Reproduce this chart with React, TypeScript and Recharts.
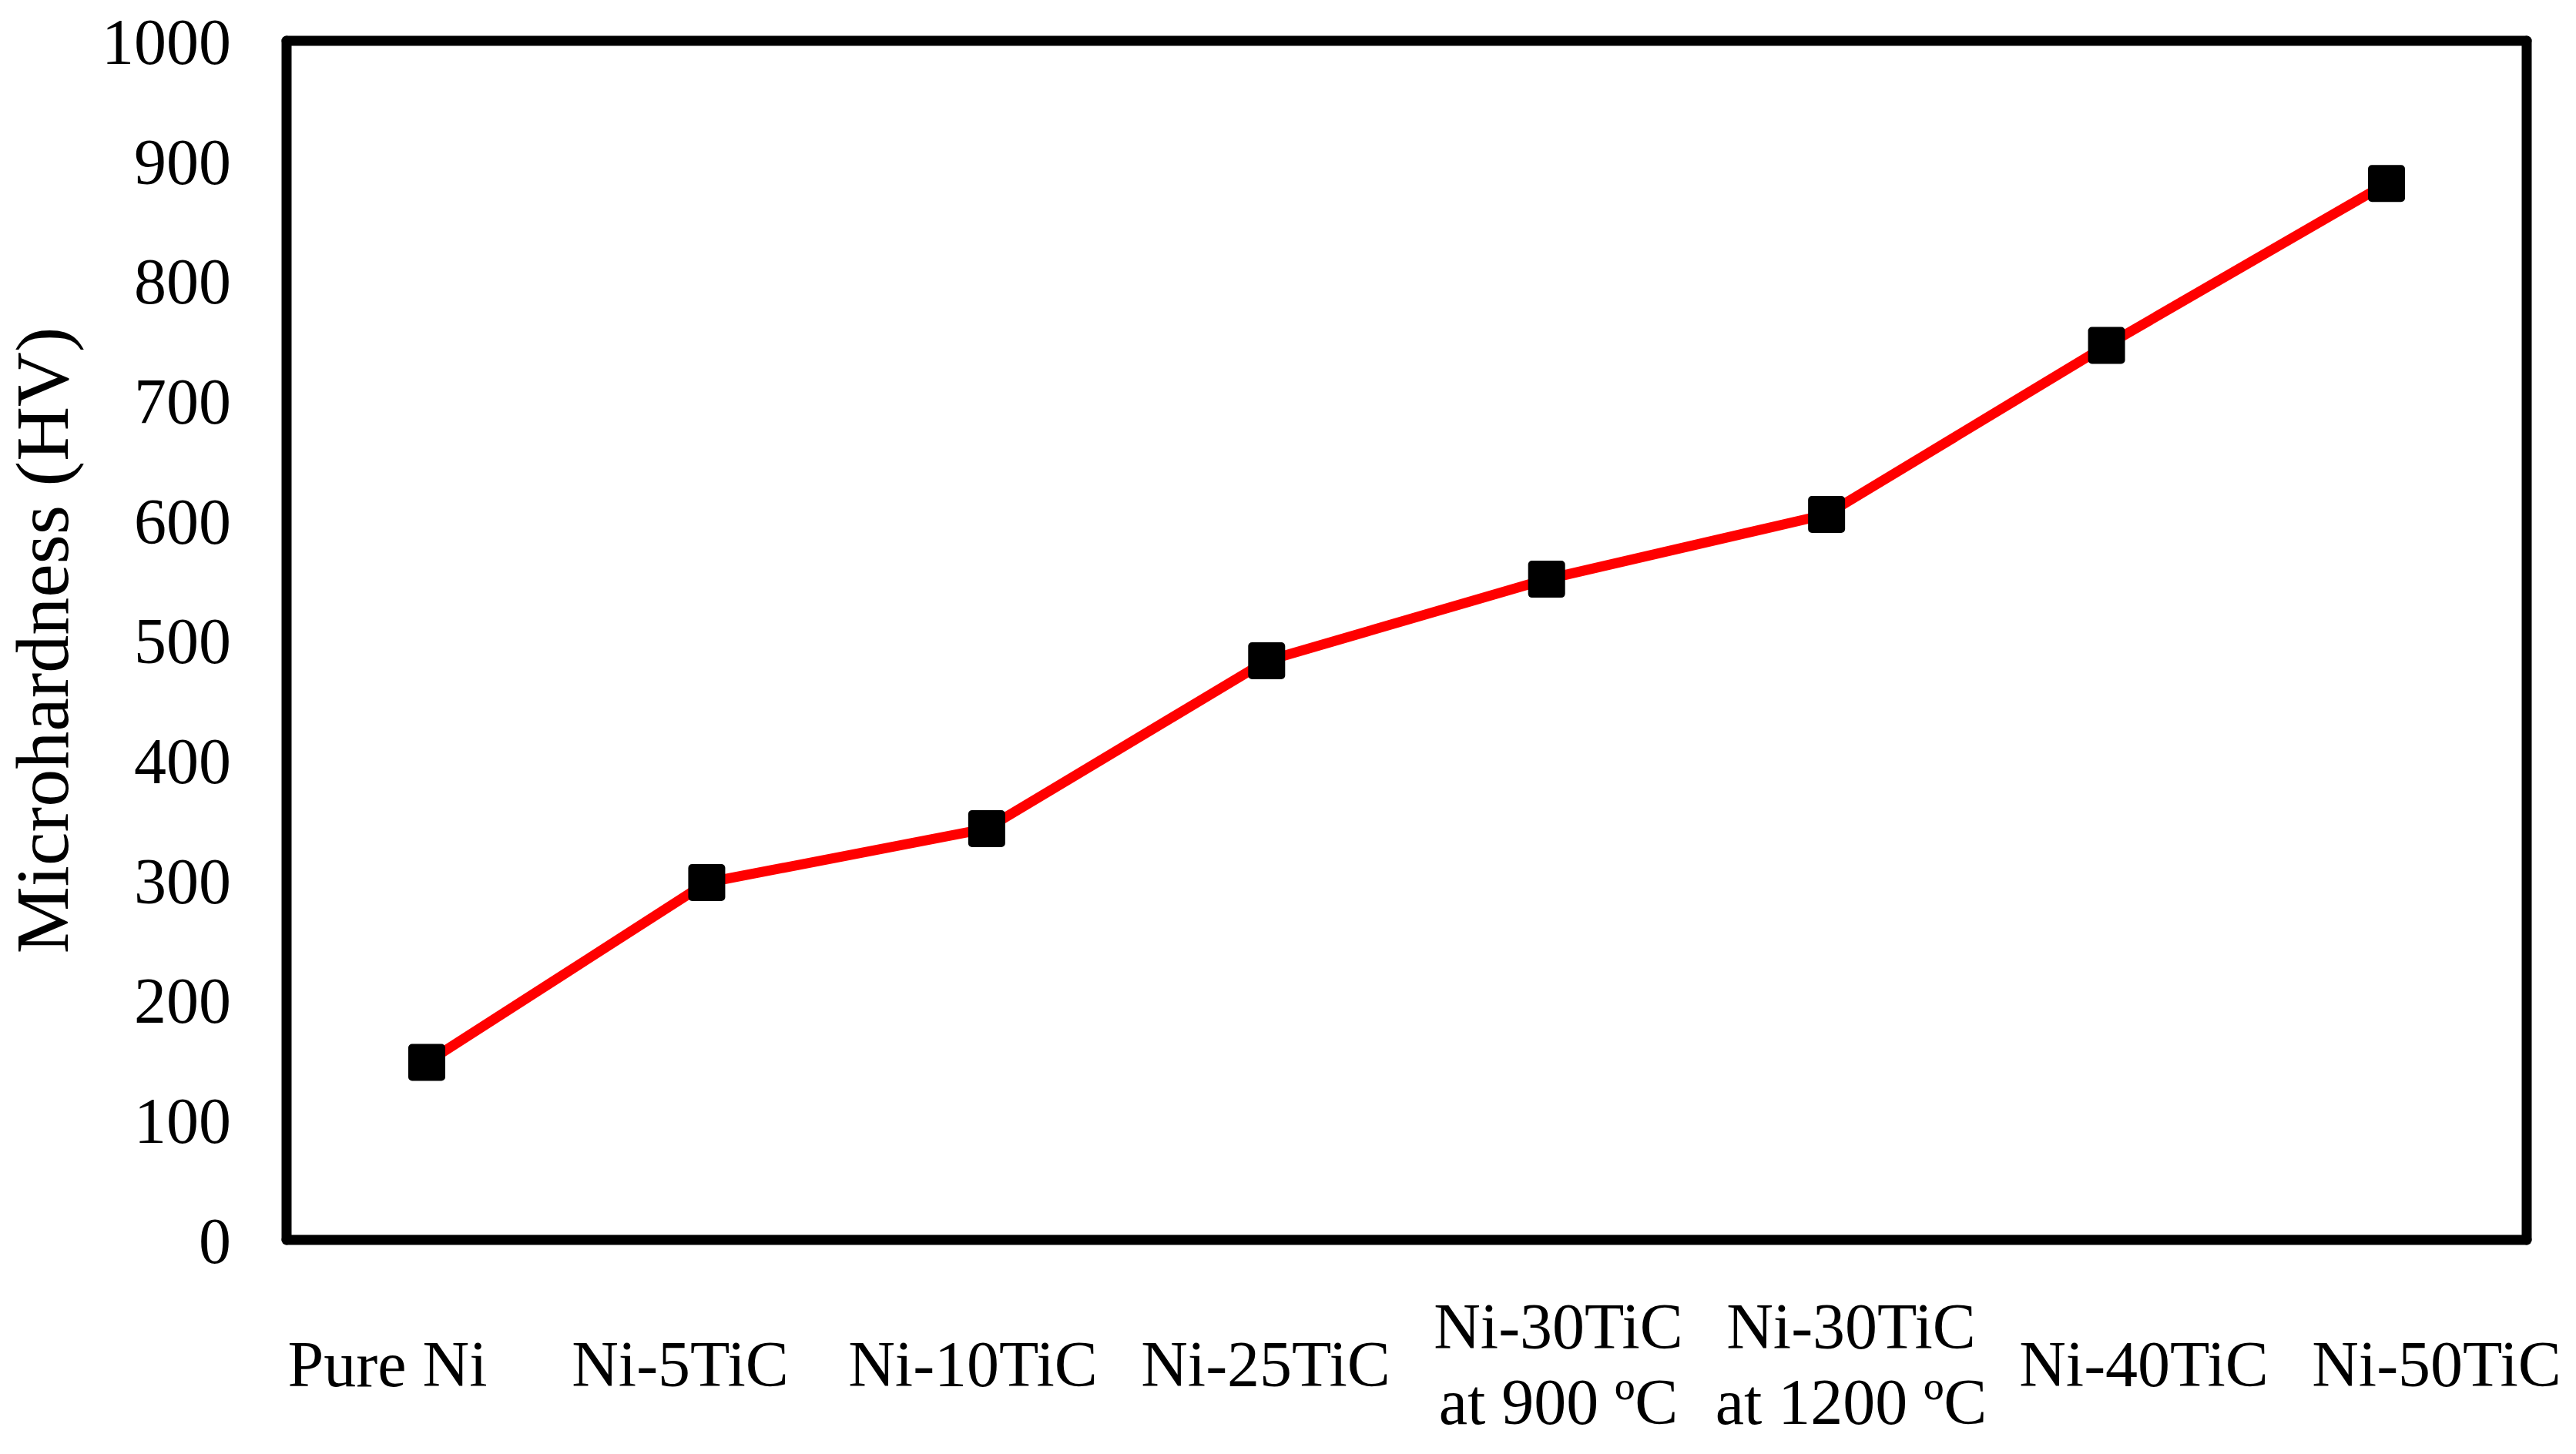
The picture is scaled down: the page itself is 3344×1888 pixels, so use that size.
import React from 'react';
import { LineChart, Line, XAxis, YAxis } from 'recharts';

const categories = [
  'Pure Ni',
  'Ni-5TiC',
  'Ni-10TiC',
  'Ni-25TiC',
  'Ni-30TiC\nat 900 ºC',
  'Ni-30TiC\nat 1200 ºC',
  'Ni-40TiC',
  'Ni-50TiC',
];
const hardness = [148, 298, 343, 483, 551, 605, 746, 881];
const yTicks = [0, 100, 200, 300, 400, 500, 600, 700, 800, 900, 1000];

const data = categories.map((name, i) => ({ name, hv: hardness[i] }));

const FONT = '"Liberation Serif", "Times New Roman", serif';
const frame = { stroke: '#000', strokeWidth: 13, strokeLinecap: 'round' as const };

function SquareDot(props: any) {
  const { cx, cy } = props;
  if (cx == null || cy == null) return null;
  return <rect x={cx - 24} y={cy - 24} width={48} height={48} rx={5} fill="#000" />;
}

function CategoryTick(props: any) {
  const { x, y, payload } = props;
  const lines = String(payload.value).split('\n');
  const step = 98;
  const first = y + 189 - ((lines.length - 1) * step) / 2;
  return (
    <text x={x} textAnchor="middle" fontFamily={FONT} fontSize={84} fill="#000">
      {lines.map((l, i) => (
        <tspan key={i} x={x} y={first + i * step}>
          {l}
        </tspan>
      ))}
    </text>
  );
}

function AxisTitle(props: any) {
  const { viewBox } = props;
  const cx = viewBox.x + 88;
  const cy = viewBox.y + viewBox.height / 2;
  return (
    <text
      x={cx}
      y={cy}
      transform={`rotate(-90, ${cx}, ${cy})`}
      textAnchor="middle"
      fontFamily={FONT}
      fontSize={98}
      fill="#000"
    >
      Microhardness (HV)
    </text>
  );
}

export default function App() {
  return (
    <div style={{ position: 'absolute', left: 0, top: 0, width: 3344, height: 1888, background: '#fff' }}>
      <LineChart width={3344} height={1888} data={data} margin={{ top: 52, right: 63, bottom: 0, left: 0 }}>
        <XAxis
          xAxisId="data"
          dataKey="name"
          height={1}
          tick={false}
          tickLine={false}
          axisLine={frame}
          padding={{ left: 182, right: 182 }}
        />
        <XAxis
          xAxisId="labels"
          dataKey="name"
          height={277}
          axisLine={false}
          tickLine={false}
          tickSize={0}
          tickMargin={0}
          interval={0}
          tick={<CategoryTick />}
          padding={{ left: 131, right: 117 }}
        />
        <XAxis xAxisId="top" dataKey="name" orientation="top" height={1} tick={false} tickLine={false} axisLine={frame} />
        <YAxis
          yAxisId="left"
          width={372}
          domain={[0, 1000]}
          ticks={yTicks}
          interval={0}
          axisLine={frame}
          tickLine={false}
          tickSize={0}
          tickMargin={72}
          tick={{ fontFamily: FONT, fontSize: 84, fill: '#000' }}
          label={<AxisTitle />}
        />
        <YAxis
          yAxisId="right"
          orientation="right"
          width={1}
          domain={[0, 1000]}
          tick={false}
          tickLine={false}
          axisLine={frame}
        />
        <Line
          xAxisId="data"
          yAxisId="left"
          type="linear"
          dataKey="hv"
          stroke="#ff0000"
          strokeWidth={13}
          dot={<SquareDot />}
          activeDot={false}
          isAnimationActive={false}
        />
      </LineChart>
    </div>
  );
}
